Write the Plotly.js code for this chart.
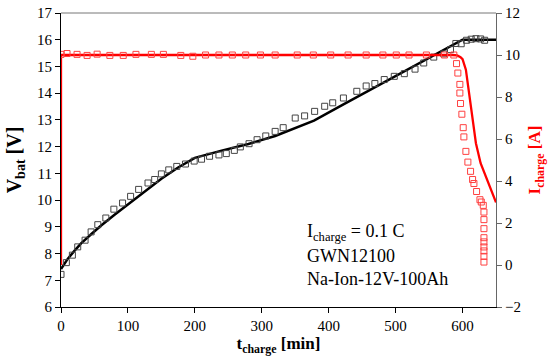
<!DOCTYPE html>
<html>
<head>
<meta charset="utf-8">
<script src="https://cdn.plot.ly/plotly-3.0.1.min.js"></script>
<style>html,body{margin:0;padding:0;background:#fff;}#chart{width:550px;height:361px;}</style>
</head>
<body>
<div id="chart"></div>
<script>
// Measured battery voltage (markers)
var vMeasT = [0, 8, 17, 25, 36, 45, 55, 67, 79, 92, 104, 116, 130, 140, 150, 161, 173, 186, 199, 210, 222, 236, 247, 259, 268, 281, 293, 306, 320, 332, 350, 364, 379, 394, 406, 422, 442, 456, 469, 483, 498, 513, 529, 542, 557, 572, 582, 590, 598, 606, 613, 620, 627, 633];
var vMeasV = [7.22, 7.66, 7.94, 8.25, 8.5, 8.81, 9.08, 9.33, 9.66, 9.89, 10.14, 10.4, 10.64, 10.77, 10.98, 11.13, 11.26, 11.35, 11.46, 11.53, 11.64, 11.69, 11.74, 11.86, 11.99, 12.11, 12.26, 12.4, 12.57, 12.71, 13.07, 13.15, 13.32, 13.51, 13.64, 13.82, 14.07, 14.27, 14.36, 14.51, 14.63, 14.73, 14.9, 15.13, 15.35, 15.47, 15.63, 15.86, 15.85, 15.98, 16.02, 16.04, 16.03, 15.98];
// Simulated battery voltage (line)
var vSimT = [0, 10, 20, 30, 45, 60, 80, 100, 125, 150, 175, 200, 240, 280, 320, 350, 378, 420, 460, 500, 540, 580, 600, 650];
var vSimV = [7.42, 7.8, 8.1, 8.38, 8.72, 9.05, 9.45, 9.84, 10.32, 10.8, 11.22, 11.58, 11.85, 12.1, 12.4, 12.68, 12.97, 13.55, 14.1, 14.65, 15.2, 15.74, 16.0, 16.0];
// Measured charge current (markers)
var iMeasT = [0, 9, 24, 39, 54, 73, 93, 112, 135, 153, 179, 197, 216, 236, 256, 276, 298, 320, 353, 377, 403, 429, 456, 481, 501, 520, 546, 573, 587, 591, 593, 596, 596, 597, 599, 601, 602, 605, 608, 612, 615, 617, 621, 626, 628, 631, 632, 632, 632, 632, 632, 632, 632, 632, 632];
var iMeasI = [10.03, 10.07, 10.03, 9.98, 10.04, 9.98, 9.98, 10.03, 10.03, 10.03, 9.98, 9.94, 10.0, 10.0, 10.0, 10.0, 10.0, 10.0, 10.0, 10.0, 10.0, 10.0, 10.0, 10.0, 10.0, 10.0, 10.0, 10.0, 10.0, 9.59, 9.14, 8.6, 8.19, 7.69, 7.18, 6.54, 6.1, 5.41, 4.9, 4.46, 4.07, 3.88, 3.5, 3.11, 3.0, 2.84, 2.52, 2.16, 1.73, 1.3, 1.1, 0.86, 0.67, 0.41, 0.14];
// Simulated charge current (line)
var iSimT = [0, 0, 585, 592, 597, 600, 605, 610, 615, 620, 627, 637, 645, 650];
var iSimI = [0, 10, 10, 9.98, 9.9, 9.8, 9.3, 8.2, 6.9, 5.8, 4.85, 4.0, 3.4, 2.98];

var xTicks = [0, 100, 200, 300, 400, 500, 600];
var yTicks = [6, 7, 8, 9, 10, 11, 12, 13, 14, 15, 16, 17];
var y2Ticks = [-2, 0, 2, 4, 6, 8, 10, 12];
var noteLines = ['I<sub>charge</sub> = 0.1 C', 'GWN12100', 'Na-Ion-12V-100Ah'];

var serif = '"Liberation Serif", "Times New Roman", serif';

var traces = [
  {x: iSimT, y: iSimI, yaxis: 'y2', mode: 'lines', line: {color: '#ff0000', width: 2.3}, hoverinfo: 'skip'},
  {x: iMeasT, y: iMeasI, yaxis: 'y2', mode: 'markers', marker: {symbol: 'square-open', size: 6, color: '#ff4040', line: {width: 1}}},
  {x: vSimT, y: vSimV, mode: 'lines', line: {color: '#000000', width: 2.5}},
  {x: vMeasT, y: vMeasV, mode: 'markers', marker: {symbol: 'square-open', size: 6, color: '#444444', line: {width: 1}}}
];

var annotations = noteLines.map(function (t, i) {
  return {xref: 'paper', yref: 'paper', x: (305 - 61) / 435, y: (307 - (233 + i * 23)) / 294,
    xanchor: 'left', yanchor: 'middle', showarrow: false, text: t,
    font: {family: serif, size: 18, color: '#000'}};
});

var layout = {
  width: 550, height: 361,
  margin: {l: 61, r: 54, t: 13, b: 54},
  paper_bgcolor: '#fff', plot_bgcolor: '#fff',
  showlegend: false,
  font: {family: serif, size: 15, color: '#000'},
  xaxis: {
    range: [0, 650], tickvals: xTicks, ticks: 'outside', ticklen: 5, tickcolor: '#000',
    showline: true, linecolor: '#000', linewidth: 1, showgrid: false, zeroline: false,
    tickfont: {family: serif, size: 15, color: '#000'},
    title: {text: '<b>t<sub>charge</sub> [min]</b>', font: {family: serif, size: 17, color: '#000'}, standoff: 0}
  },
  yaxis: {
    range: [6, 17], tickvals: yTicks, ticks: 'outside', ticklen: 5, tickcolor: '#000',
    showline: true, linecolor: '#000', linewidth: 1, showgrid: false, zeroline: false,
    tickfont: {family: serif, size: 15, color: '#000'},
    title: {text: '<b>V<sub>bat</sub> [V]</b>', font: {family: serif, size: 20, color: '#000'}, standoff: 10}
  },
  yaxis2: {
    overlaying: 'y', side: 'right', range: [-2, 12], tickvals: y2Ticks, ticks: 'outside', ticklen: 5,
    tickcolor: '#666', showline: true, linecolor: '#666', linewidth: 1, showgrid: false, zeroline: false,
    tickfont: {family: serif, size: 15, color: '#000'},
    title: {text: '<b>I<sub>charge</sub> [A]</b>', font: {family: serif, size: 17, color: '#ff0000'}, standoff: 8}
  },
  shapes: [{type: 'line', xref: 'paper', yref: 'paper', x0: 0, x1: 1, y0: 1, y1: 1, line: {color: '#777', width: 1}}],
  annotations: annotations
};

Plotly.newPlot('chart', traces, layout, {displayModeBar: false, staticPlot: true});
</script>
</body>
</html>
